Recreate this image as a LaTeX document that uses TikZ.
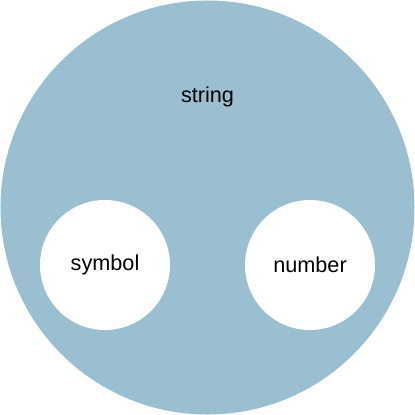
\documentclass[tikz,border=0pt]{standalone}
\usepackage{fontspec}
\setmainfont{Liberation Sans}
\definecolor{setblue}{HTML}{99BFD1}
\begin{document}
\begin{tikzpicture}[x=0.03cm, y=-0.03cm,
  outer set/.style={circle, fill=setblue, inner sep=0pt, minimum size=12.42cm},
  inner set/.style={circle, fill=white, inner sep=0pt, minimum size=3.9cm}]
           \tikzstyle{every node}=[font=\fontsize{18.5}{21}\selectfont, text=black]
           \useasboundingbox (0,0) rectangle (415,415);

             \node[outer set] (string) at (207.5,207.5) {};
             \node[] (stringlabel) at (207.5,97) {string};
             \node[inner set] (symbol) at (105,265) {symbol};
             \node[inner set] (number) at (310,265) {number};

\end{tikzpicture}
\end{document}
